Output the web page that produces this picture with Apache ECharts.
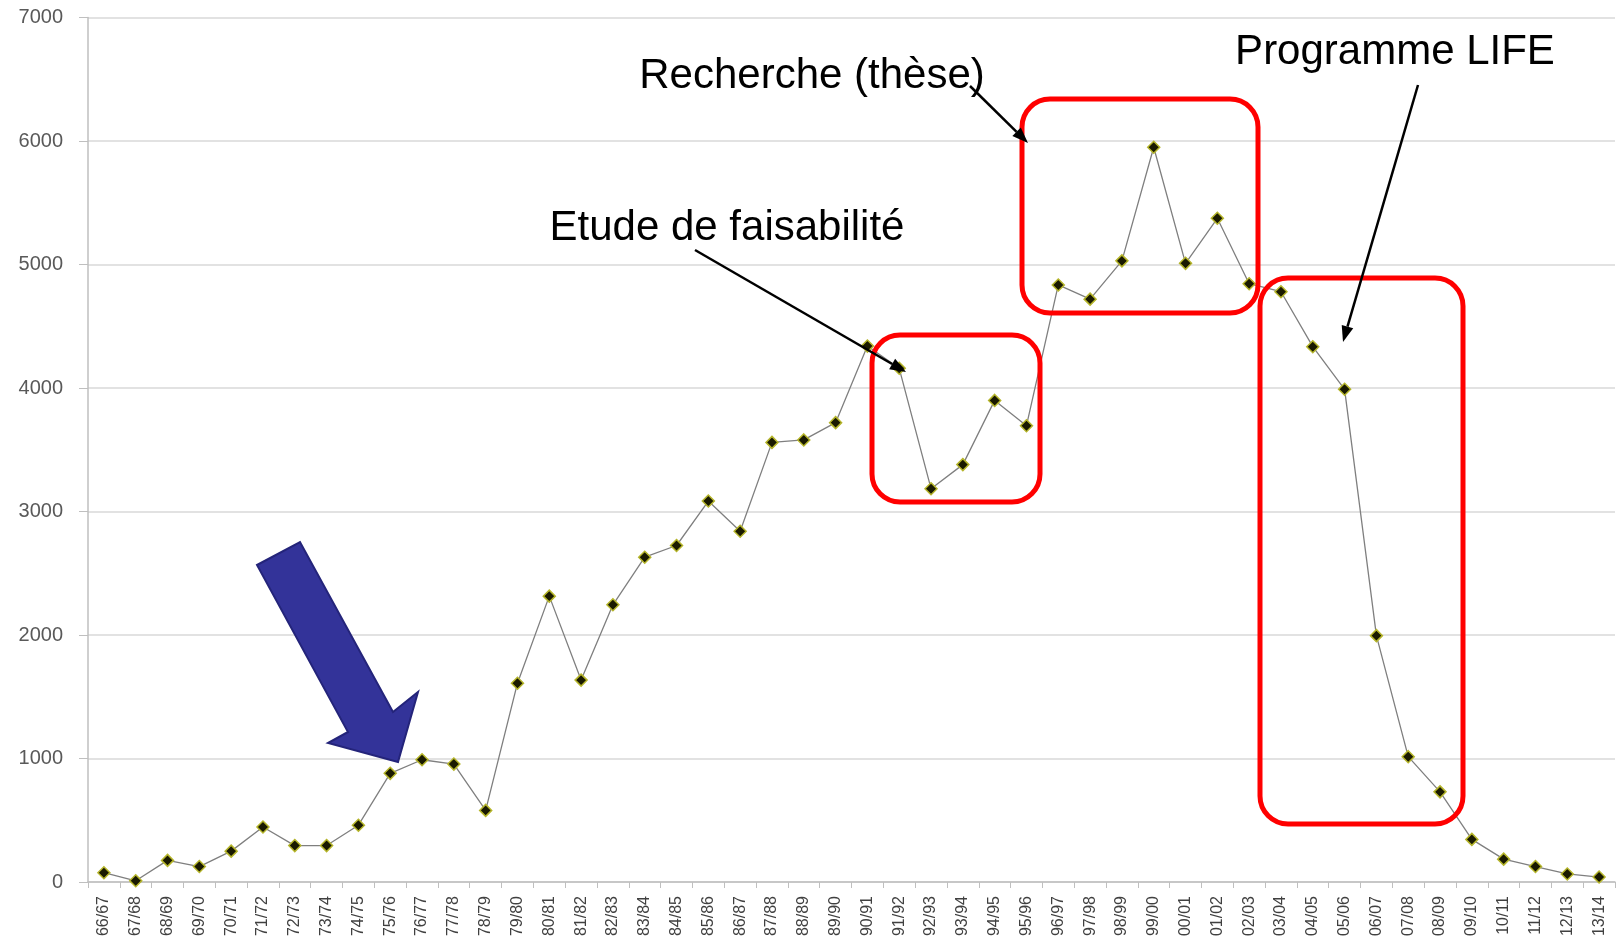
<!DOCTYPE html>
<html>
<head>
<meta charset="utf-8">
<script src="https://cdn.jsdelivr.net/npm/echarts@6/dist/echarts.min.js"></script>
<style>
  html, body { margin: 0; padding: 0; background: #fff; }
  #chart { width: 1622px; height: 949px; }
</style>
</head>
<body>
<div id="chart"></div>
<script>
// années scolaires (axe X)
var years = ['66/67','67/68','68/69','69/70','70/71','71/72','72/73','73/74','74/75','75/76',
  '76/77','77/78','78/79','79/80','80/81','81/82','82/83','83/84','84/85','85/86',
  '86/87','87/88','88/89','89/90','90/91','91/92','92/93','93/94','94/95','95/96',
  '96/97','97/98','98/99','99/00','00/01','01/02','02/03','03/04','04/05','05/06',
  '06/07','07/08','08/09','09/10','10/11','11/12','12/13','13/14'];

var values = [75, 10, 175, 125, 250, 445, 295, 295, 460, 880,
  990, 955, 580, 1610, 2315, 1635, 2245, 2630, 2725, 3085,
  2840, 3560, 3580, 3720, 4340, 4160, 3185, 3380, 3900, 3695,
  4835, 4720, 5030, 5950, 5010, 5375, 4845, 4780, 4335, 3990,
  1995, 1015, 730, 345, 185, 125, 65, 40];

var yTicks = [0, 1000, 2000, 3000, 4000, 5000, 6000, 7000];

// flèche noire : trait + pointe
function arrow(x1, y1, x2, y2) {
  var ang = Math.atan2(y2 - y1, x2 - x1);
  var len = 16, w = 6;
  var bx = x2 - len * Math.cos(ang), by = y2 - len * Math.sin(ang);
  var px = -Math.sin(ang) * w, py = Math.cos(ang) * w;
  return [
    { type: 'line', shape: { x1: x1, y1: y1, x2: bx, y2: by },
      style: { stroke: '#000', lineWidth: 2.5 }, z: 100 },
    { type: 'polygon', shape: { points: [[x2, y2], [bx + px, by + py], [bx - px, by - py]] },
      style: { fill: '#000' }, z: 100 }
  ];
}

function redBox(x, y, w, h) {
  return { type: 'rect', shape: { x: x, y: y, width: w, height: h, r: 28 },
    style: { fill: 'none', stroke: '#ff0000', lineWidth: 5 }, z: 90 };
}

function label(txt, x, y) {
  return { type: 'text', x: x, y: y, z: 110,
    style: { text: txt, fill: '#000', font: '42px "Liberation Sans", Arial, sans-serif',
      textAlign: 'center', textVerticalAlign: 'middle' } };
}

var graphics = [
  redBox(872, 335, 168, 167),
  redBox(1022, 99, 236, 214),
  redBox(1260, 278, 203, 546),
  label('Recherche (thèse)', 812, 76),
  label('Etude de faisabilité', 727, 228),
  label('Programme LIFE', 1395, 52),
  // grosse flèche bleue
  { type: 'polygon', z: 95,
    shape: { points: [[257, 565], [300, 542], [393, 712], [418, 692], [398, 762], [328, 743], [348, 732]] },
    style: { fill: '#333399', stroke: '#24247a', lineWidth: 2 } }
].concat(arrow(970, 86, 1028, 143))
 .concat(arrow(695, 250, 906, 372))
 .concat(arrow(1418, 85, 1343, 342));

var chart = echarts.init(document.getElementById('chart'));
var option = {
  animation: false,
  grid: { left: 88, right: 7, top: 17.6, bottom: 67, containLabel: false },
  xAxis: {
    type: 'category',
    boundaryGap: true,
    data: years,
    axisLine: { lineStyle: { color: '#bfbfbf', width: 1.5 } },
    axisTick: { show: true, interval: 0, length: 6, lineStyle: { color: '#bfbfbf' } },
    axisLabel: {
      interval: 0, rotate: 90, margin: 14,
      fontSize: 16, color: '#404040', fontFamily: 'Liberation Sans'
    }
  },
  yAxis: {
    type: 'value',
    min: yTicks[0], max: yTicks[yTicks.length - 1], interval: 1000,
    axisLine: { show: true, lineStyle: { color: '#bfbfbf', width: 1.5 } },
    axisTick: { show: true, length: 9, lineStyle: { color: '#bfbfbf' } },
    axisLabel: { margin: 25, fontSize: 20, color: '#595959', fontFamily: 'Liberation Sans',
      formatter: function (v) { return String(v); } },
    splitLine: { lineStyle: { color: '#d9d9d9', width: 1.5 } }
  },
  series: [{
    type: 'line',
    data: values,
    symbol: 'diamond',
    symbolSize: 12,
    lineStyle: { color: '#7f7f7f', width: 1.3 },
    itemStyle: { color: '#1a1a00', borderColor: '#b5b52a', borderWidth: 1.5 }
  }],
  graphic: graphics
};
chart.setOption(option);
</script>
</body>
</html>
